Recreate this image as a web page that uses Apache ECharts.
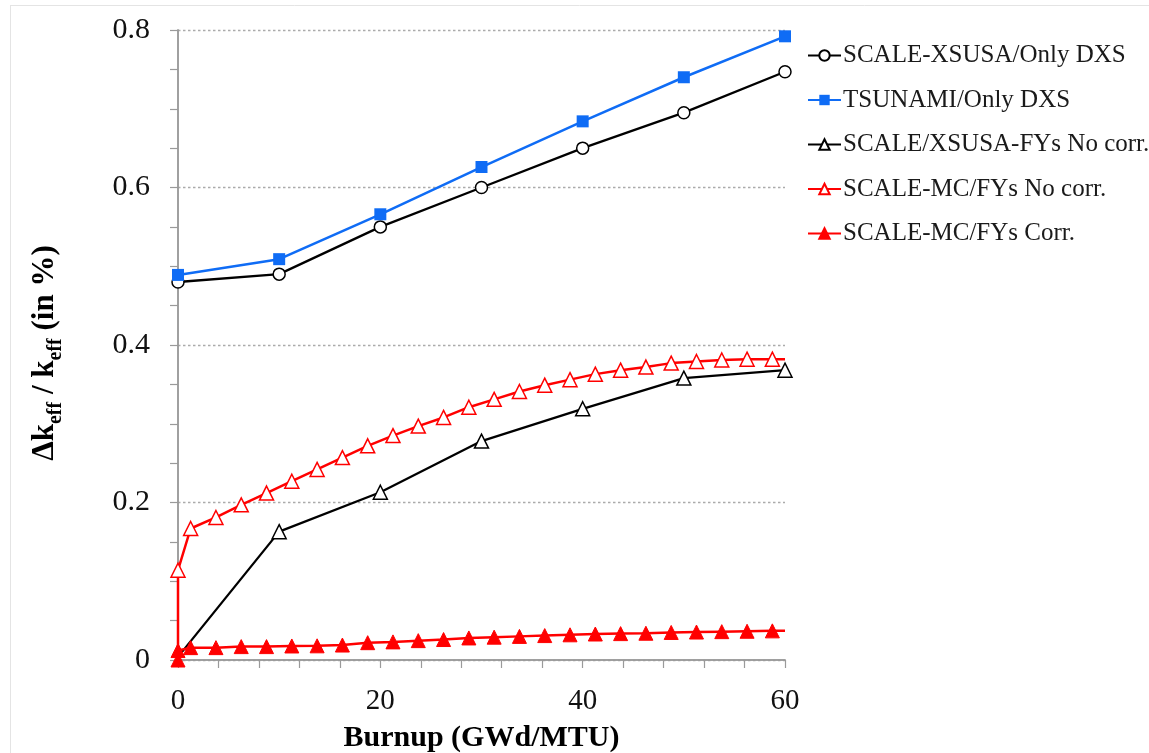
<!DOCTYPE html>
<html>
<head>
<meta charset="utf-8">
<script src="https://cdn.jsdelivr.net/npm/echarts@6/dist/echarts.min.js"></script>
<style>
html,body{margin:0;padding:0;background:#fff;overflow:hidden;}
#chart{width:1149px;height:753px;}
</style>
</head>
<body>
<div id="chart"></div>
<script>
// ---- data ----
const seriesNames = [
  'SCALE-XSUSA/Only DXS',
  'TSUNAMI/Only DXS',
  'SCALE/XSUSA-FYs No corr.',
  'SCALE-MC/FYs No corr.',
  'SCALE-MC/FYs Corr.'
];
const coarseBurnup = [0, 10, 20, 30, 40, 50, 60];
const xsusaDxs   = [0.480, 0.490, 0.550, 0.600, 0.650, 0.695, 0.747];
const tsunamiDxs = [0.489, 0.509, 0.566, 0.626, 0.684, 0.740, 0.792];
const xsusaFyBurnup = [0, 10, 20, 30, 40, 50, 60];
const xsusaFyNoCorr = [0.004, 0.163, 0.213, 0.278, 0.319, 0.358, 0.368];
const mcBurnup = [0, 0, 1.25, 3.75, 6.25, 8.75, 11.25, 13.75, 16.25, 18.75, 21.25, 23.75, 26.25,
  28.75, 31.25, 33.75, 36.25, 38.75, 41.25, 43.75, 46.25, 48.75, 51.25, 53.75, 56.25, 58.75, 60];
const mcNoCorr = [0.012, 0.114, 0.167, 0.181, 0.197, 0.212, 0.227, 0.242, 0.257, 0.272, 0.285, 0.297, 0.308,
  0.321, 0.331, 0.341, 0.349, 0.356, 0.363, 0.368, 0.372, 0.377, 0.379, 0.381, 0.382, 0.382, 0.382];
const mcCorr = [0.000, 0.012, 0.0157, 0.0157, 0.017, 0.017, 0.0178, 0.018, 0.019, 0.022, 0.023, 0.0246, 0.026,
  0.028, 0.029, 0.030, 0.031, 0.032, 0.033, 0.0335, 0.034, 0.035, 0.0355, 0.036, 0.0365, 0.037, 0.037];
// points drawn without a marker (line continuation only)
const xsusaFyNoMarker = [0];
const mcNoCorrNoMarker = [0, 26];
const mcCorrNoMarker = [26];
const xTicks = [0, 20, 40, 60];
const yTicks = [0, 0.2, 0.4, 0.6, 0.8];

// ---- chart ----
const FONT = "'Liberation Serif', 'DejaVu Serif', serif";
function pair(xs, ys, noMarker) {
  return xs.map((x, i) => {
    const item = {value: [x, ys[i]]};
    if (noMarker && noMarker.indexOf(i) >= 0) item.symbol = 'none';
    return item;
  });
}
const chart = echarts.init(document.getElementById('chart'), null, {renderer: 'canvas', width: 1149, height: 753});

const axisGrey = '#9a9a9a';

const option = {
  backgroundColor: '#ffffff',
  animation: false,
  textStyle: {fontFamily: FONT},
  graphic: [
    {type: 'line', shape: {x1: 10, y1: 5.5, x2: 1149, y2: 5.5}, style: {stroke: '#e4e4e4', lineWidth: 1}},
    {type: 'line', shape: {x1: 10.5, y1: 5, x2: 10.5, y2: 753}, style: {stroke: '#e4e4e4', lineWidth: 1}}
  ],
  grid: {left: 178, right: 364, top: 30, bottom: 93, containLabel: false, outerBoundsMode: 'none'},
  legend: {
    orient: 'vertical',
    left: 802,
    top: 38,
    itemWidth: 33,
    itemHeight: 13,
    itemGap: 19.5,
    textStyle: {fontFamily: FONT, fontSize: 25, lineHeight: 25, color: '#1a1a1a', padding: [0, 0, 0, -3]},
    data: seriesNames
  },
  xAxis: [{
    type: 'value',
    min: 0, max: 60, interval: 20,
    name: 'Burnup (GWd/MTU)',
    nameLocation: 'middle',
    nameGap: 63,
    nameTextStyle: {fontFamily: FONT, fontSize: 30, fontWeight: 'bold', color: '#000'},
    axisLine: {show: true, onZero: false, lineStyle: {color: axisGrey, width: 1.5}},
    axisTick: {show: true, inside: false, length: 8, lineStyle: {color: axisGrey, width: 1.2}},
    minorTick: {show: true, splitNumber: 5, length: 8, lineStyle: {color: axisGrey, width: 1.2}},
    axisLabel: {
      margin: 27, fontFamily: FONT, fontSize: 29, color: '#111',
      formatter: v => (xTicks.indexOf(v) >= 0 ? String(v) : '')
    },
    splitLine: {show: false}
  }, {
    type: 'value', position: 'top',
    min: 0, max: 60,
    axisLine: {show: true, lineStyle: {color: axisGrey, width: 1.5}},
    axisTick: {show: false}, axisLabel: {show: false}, splitLine: {show: false}
  }],
  yAxis: [{
    type: 'value',
    min: 0, max: 0.8, interval: 0.2,
    name: '{b|Δk}{s|eff}{b| / k}{s|eff}{b| (in %)}',
    nameLocation: 'middle',
    nameGap: 118,
    nameRotate: 90,
    nameTextStyle: {
      padding: [0, 16, 0, 0],
      rich: {
        b: {fontFamily: FONT, fontSize: 31, fontWeight: 'bold', color: '#000', lineHeight: 32, verticalAlign: 'bottom'},
        s: {fontFamily: FONT, fontSize: 20, fontWeight: 'bold', color: '#000', lineHeight: 32, verticalAlign: 'bottom', padding: [0, 0, -6, 0]}
      }
    },
    axisLine: {show: true, onZero: false, lineStyle: {color: axisGrey, width: 1.5}},
    axisTick: {show: true, inside: false, length: 8, lineStyle: {color: axisGrey, width: 1.2}},
    minorTick: {show: true, splitNumber: 4, length: 8, lineStyle: {color: axisGrey, width: 1.2}},
    axisLabel: {
      margin: 28, fontFamily: FONT, fontSize: 30, color: '#111',
      formatter: v => {
        const r = Math.round(v * 10) / 10;
        return yTicks.indexOf(r) < 0 ? '' : (r === 0 ? '0' : r.toFixed(1));
      }
    },
    splitLine: {show: true, lineStyle: {color: '#ababab', type: [2.5, 2.5], width: 1.3}}
  }, {
    type: 'value', position: 'right',
    min: 0, max: 0.8,
    axisLine: {show: true, lineStyle: {color: axisGrey, width: 1.5}},
    axisTick: {show: false}, axisLabel: {show: false}, splitLine: {show: false}
  }],
  series: [
    {
      name: seriesNames[0], type: 'line', xAxisIndex: 0, yAxisIndex: 0, clip: false,
      data: pair(coarseBurnup, xsusaDxs),
      symbol: 'circle', symbolSize: 12,
      lineStyle: {color: '#000', width: 2.3},
      itemStyle: {color: '#ffffff', borderColor: '#000', borderWidth: 1.5},
      z: 3
    },
    {
      name: seriesNames[1], type: 'line', xAxisIndex: 0, yAxisIndex: 0, clip: false,
      data: pair(coarseBurnup, tsunamiDxs),
      symbol: 'rect', symbolSize: 12,
      lineStyle: {color: '#0f6cf5', width: 2.5},
      itemStyle: {color: '#0f6cf5', borderColor: '#0f6cf5', borderWidth: 0},
      z: 4
    },
    {
      name: seriesNames[2], type: 'line', xAxisIndex: 0, yAxisIndex: 0, clip: false,
      data: pair(xsusaFyBurnup, xsusaFyNoCorr, xsusaFyNoMarker),
      symbol: 'triangle', symbolSize: 14,
      lineStyle: {color: '#000', width: 2.3},
      itemStyle: {color: '#ffffff', borderColor: '#000', borderWidth: 1.5},
      z: 3
    },
    {
      name: seriesNames[3], type: 'line', xAxisIndex: 0, yAxisIndex: 0, clip: false,
      data: pair(mcBurnup, mcNoCorr, mcNoCorrNoMarker),
      symbol: 'triangle', symbolSize: 14,
      lineStyle: {color: '#ff0000', width: 2.5},
      itemStyle: {color: '#ffffff', borderColor: '#ff0000', borderWidth: 1.5},
      z: 4
    },
    {
      name: seriesNames[4], type: 'line', xAxisIndex: 0, yAxisIndex: 0, clip: false,
      data: pair(mcBurnup, mcCorr, mcCorrNoMarker),
      symbol: 'triangle', symbolSize: 14,
      lineStyle: {color: '#ff0000', width: 2.5},
      itemStyle: {color: '#ff0000', borderColor: '#ff0000', borderWidth: 1},
      z: 5
    }
  ]
};
chart.setOption(option);
</script>
</body>
</html>
